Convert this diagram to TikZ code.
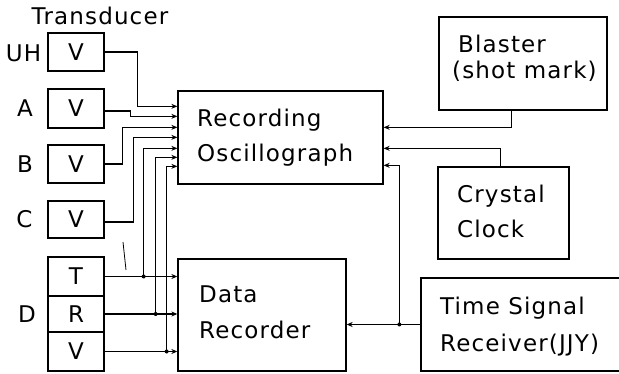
\documentclass[tikz,border=0pt]{standalone}
\usepackage{fontspec}
\setmainfont{DejaVu Sans}[LetterSpace=5.0]
\usetikzlibrary{arrows.meta,calc}
\begin{document}
\begin{tikzpicture}[x=1pt,y=-1pt,
  font=\fontsize{23}{35}\selectfont,
  box/.style={draw,line width=1.3pt,inner sep=0pt},
  txt/.style={anchor=base west,inner sep=0pt,align=left},
  tbox/.style={draw,line width=1.3pt,minimum width=56pt,minimum height=38pt,inner sep=0pt},
  lbl/.style={anchor=base,inner sep=0pt},
  wire/.style={line width=1.1pt},
  sig/.style={wire,-{Stealth[length=6pt,width=5pt]}},
  dot/.style={circle,fill,inner sep=0pt,minimum size=4pt}]
\useasboundingbox (0,0) rectangle (619,374);

% main units
\node[box,minimum width=205pt,minimum height=93pt] (osc) at (280.5,137.5) {};
\node[box,minimum width=168pt,minimum height=112pt] (dr) at (262,315) {};
\node[box,minimum width=168pt,minimum height=93pt] (bl) at (523,63.5) {};
\node[box,minimum width=131pt,minimum height=92pt] (cc) at (503.5,213) {};
\node[box,minimum width=200pt,minimum height=93pt] (tsr) at (521,324.5) {};

% unit labels (placed by the baseline of their last line)
\node[txt] (osct) at (197,162) {Recording\\Oscillograph};
\node[txt,font=\fontsize{23}{36}\selectfont] (drt) at (199,338) {Data\\Recorder};
\node[txt,font=\fontsize{23}{26}\selectfont] (blt) at (452,79) {\hspace{6pt}Blaster\\(shot mark)};
\node[txt] (cct) at (457,238) {Crystal\\Clock};
\node[txt,font=\fontsize{23}{37}\selectfont] (tsrt) at (440,352) {Time Signal\\Receiver(JJY)};

% transducers
\node[lbl] (trt) at (100,25) {Transducer};
\node[tbox] (uh) at (76,52) {V};
\node[tbox,minimum height=39pt] (a) at (76,108.5) {V};
\node[tbox] (b) at (76,164) {V};
\node[tbox,minimum height=37pt] (c) at (76,219.5) {V};
\node[tbox,minimum height=39pt] (t) at (76,276.5) {T};
\node[tbox,minimum height=36pt] (r) at (76,314) {R};
\node[tbox,minimum height=39pt] (v) at (76,351.5) {V};

\node[lbl] (luh) at (23.5,62) {UH};
\node[lbl] (la) at (25,117) {A};
\node[lbl] (lb) at (25,172.5) {B};
\node[lbl] (lc) at (24.5,228) {C};
\node[lbl] (ld) at (27,322.5) {D};

% transducer signals into the oscillograph
\draw[sig] (uh.east) -- ++(33,0) |- ($(osc.north west)+(0,16)$);
\draw[sig] ($(a.east)+(0,2.5)$) -- ++(26,0) |- ($(osc.north west)+(0,26)$);
\draw[sig] (b.east) -- ++(18,0) |- ($(osc.north west)+(0,37)$);
\draw[sig] ($(c.east)+(0,2.5)$) -- ++(29,0) |- ($(osc.north west)+(0,47)$);

% D channels into the data recorder, tapped to the oscillograph
\coordinate (jt) at ($(t.east)+(39,0)$);
\coordinate (jr) at ($(r.east)+(51,0)$);
\coordinate (jv) at ($(v.east)+(62,0)$);
\draw[sig] (t.east) -- (t.east -| dr.west);
\draw[sig] (r.east) -- (r.east -| dr.west);
\draw[sig] (v.east) -- (v.east -| dr.west);
\draw[sig] (jt) |- ($(osc.north west)+(0,58)$);
\draw[sig] (jr) |- ($(osc.north west)+(0,67)$);
\draw[sig] (jv) |- ($(osc.north west)+(0,76)$);
\node[dot] (djt) at (jt) {};
\node[dot] (djr) at (jr) {};
\node[dot] (djv) at (jv) {};

% timing inputs
\draw[sig] ($(bl.south west)+(73,0)$) |- ($(osc.north east)+(0,37)$);
\draw[sig] ($(cc.north west)+(63,0)$) |- ($(osc.north east)+(0,58)$);
\coordinate (j3) at ($(tsr.west)-(21,0)$);
\draw[sig] (tsr.west) -- (tsr.west -| dr.east);
\draw[sig] (j3) |- ($(osc.north east)+(0,75)$);
\node[dot] (dj3) at (j3) {};

% short tick left of the taps
\draw[line width=0.8pt] (123,242) -- (126,270);
\end{tikzpicture}
\end{document}
